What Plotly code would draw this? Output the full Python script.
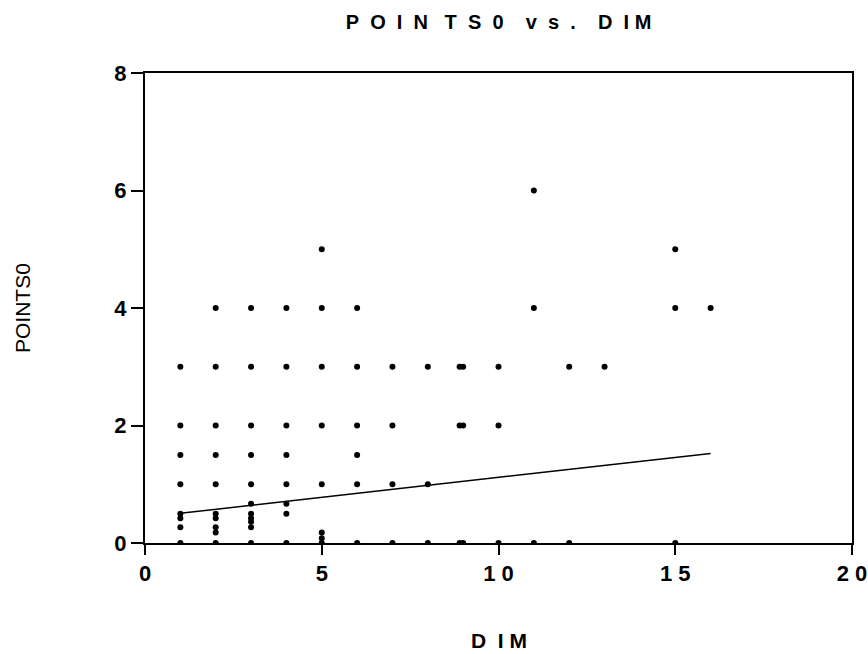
import plotly.graph_objects as go

# ---- data ----
dim = [1, 1, 1, 1, 1, 1, 1, 1,
       2, 2, 2, 2, 2, 2, 2, 2, 2, 2,
       3, 3, 3, 3, 3, 3, 3, 3, 3, 3, 3,
       4, 4, 4, 4, 4, 4, 4, 4,
       5, 5, 5, 5, 5, 5, 5, 5,
       6, 6, 6, 6, 6, 6,
       7, 7, 7, 7,
       8, 8, 8,
       8.9, 8.9, 8.9, 9, 9, 9,
       10, 10, 10,
       11, 11, 11,
       12, 12,
       13,
       15, 15, 15,
       16]
points0 = [3, 2, 1.5, 1, 0.5, 0.42, 0.27, 0,
           4, 3, 2, 1.5, 1, 0.5, 0.42, 0.27, 0.18, 0,
           4, 3, 2, 1.5, 1, 0.67, 0.5, 0.42, 0.36, 0.27, 0,
           4, 3, 2, 1.5, 1, 0.67, 0.5, 0,
           5, 4, 3, 2, 1, 0.18, 0.08, 0,
           4, 3, 2, 1.5, 1, 0,
           3, 2, 1, 0,
           3, 1, 0,
           3, 2, 0, 3, 2, 0,
           3, 2, 0,
           6, 4, 0,
           3, 0,
           3,
           5, 4, 0,
           4]

fit_dim = [1, 16]
fit_points0 = [0.505, 1.525]

NB = "\u00a0"
x_tickvals = [0, 5, 10, 15, 20]
x_ticktext = ["0", "5", "1" + NB + "0", "1" + NB + "5", "2" + NB + "0"]
y_tickvals = [0, 2, 4, 6, 8]
y_ticktext = ["0", "2", "4", "6", "8"]

title_text = (NB * 2).join("POIN") + NB * 3 + (NB * 2).join("TS0") + NB * 4 \
    + (NB * 2).join("vs.") + NB * 4 + "D" + NB * 2 + "I" + NB + "M"
xtitle_text = "D" + NB * 2 + "I" + NB + "M"
ytitle_text = "POINTS0"

FONT = "Arial, 'Liberation Sans', Helvetica, sans-serif"

W, H = 868, 654

fig = go.Figure()
fig.add_trace(go.Scatter(
    x=dim, y=points0, mode="markers",
    marker=dict(color="black", size=6, line=dict(width=0)),
    showlegend=False, hoverinfo="x+y"))
fig.add_trace(go.Scatter(
    x=fit_dim, y=fit_points0, mode="lines",
    line=dict(color="black", width=1.5),
    showlegend=False))

fig.update_layout(
    width=W, height=H,
    margin=dict(l=145, r=16, t=73, b=111),
    paper_bgcolor="white", plot_bgcolor="white",
    font=dict(family=FONT, color="black", size=22),
    title=dict(text=title_text, x=498.5 / W, xanchor="center",
               y=1 - 22 / H, yanchor="middle",
               font=dict(size=20, family=FONT, color="black", weight="bold")),
    xaxis=dict(range=[0, 20], tickvals=x_tickvals, ticktext=x_ticktext,
               automargin=False,
               showgrid=False, zeroline=False, showline=True, linecolor="black",
               linewidth=2, mirror=True, ticks="outside", ticklen=10, tickwidth=1.5,
               tickcolor="black", tickfont=dict(size=22, weight="bold")),
    yaxis=dict(range=[0, 8], tickvals=y_tickvals, ticktext=y_ticktext,
               automargin=False,
               showgrid=False, zeroline=False, showline=True, linecolor="black",
               linewidth=2, mirror=True, ticks="outside", ticklen=12, tickwidth=1.5,
               tickcolor="black", tickfont=dict(size=22, weight="bold")),
    annotations=[
        dict(text=xtitle_text, xref="paper", yref="paper",
             x=0.5, y=-(640 - 543) / 470, xanchor="center", yanchor="middle",
             showarrow=False,
             font=dict(size=21, family=FONT, color="black", weight="bold")),
        dict(text=ytitle_text, xref="paper", yref="paper",
             x=(22 - 145) / 707, y=0.5, xanchor="center", yanchor="middle",
             textangle=-90, showarrow=False,
             font=dict(size=21, family=FONT, color="black")),
    ],
)

# remove the default page margin so the figure sits at the window's top-left
fig.write_html(
    "out.html",
    config={"displayModeBar": False},
    post_script=("document.body.style.margin='0';"
                 "document.body.style.overflow='hidden';"
                 "document.documentElement.style.overflow='hidden';"),
)
